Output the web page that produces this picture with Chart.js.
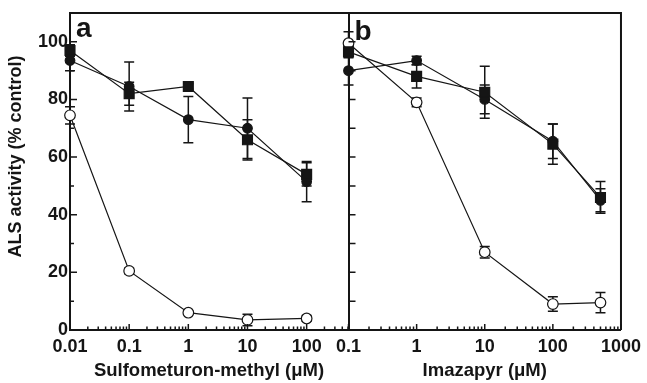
<!DOCTYPE html>
<html>
<head>
<meta charset="utf-8">
<script src="https://cdn.jsdelivr.net/npm/chart.js@4.4.1/dist/chart.umd.min.js"></script>
<style>
  body { margin: 0; background: #fff; }
  #wrap { position: relative; width: 647px; height: 383px; }
  #ca { position: absolute; left: 0; top: 0; }
  #cb { position: absolute; left: 330px; top: 0; }
</style>
</head>
<body>
<div id="wrap">
  <canvas id="ca" width="360" height="383"></canvas>
  <canvas id="cb" width="317" height="383"></canvas>
</div>
<script>
// panel a: sulfometuron-methyl (uM)
var concA = [0.01, 0.1, 1, 10, 100];
var squaresA = [97, 82, 84.5, 66, 54];
var squaresAErr = [2, 4, 1, 7, 4];
var circlesA = [93.5, 84.5, 73, 70, 51.5];
var circlesAErr = [3.5, 8.5, 8, 10.5, 7];
var openA = [74.5, 20.5, 6, 3.5, 4];
var openAErr = [3, 1, 0.5, 2, 1];

// panel b: imazapyr (uM)
var concB = [0.1, 1, 10, 100, 500];
var squaresB = [96.5, 88, 82.5, 64.5, 46];
var squaresBErr = [2, 4, 9, 7, 5.5];
var circlesB = [90, 93.5, 80, 65.5, 45];
var circlesBErr = [5, 1.5, 5, 6, 4];
var openB = [99.5, 79, 27, 9, 9.5];
var openBErr = [4, 1.5, 2, 2.5, 3.5];

var yTickLabels = [0, 20, 40, 60, 80, 100];

var ink = '#151515';
var fam = "'Liberation Sans', Arial, sans-serif";

function isPow10(v) {
    var l = Math.log10(v);
    return Math.abs(l - Math.round(l)) < 1e-9;
}

function logTicks(min, max) {
    var out = [];
    for (var e = Math.floor(Math.log10(min)); e <= Math.ceil(Math.log10(max)); e++) {
        for (var m = 1; m <= 9; m++) {
            var v = Number((m * Math.pow(10, e)).toPrecision(3));
            if (v >= min && v <= max) out.push({value: v});
        }
    }
    return out;
}

function pts(xs, ys) {
    return xs.map(function (x, i) { return {x: x, y: ys[i]}; });
}

function series(xs, ys, err, style, fill, radius) {
    return {
        data: pts(xs, ys),
        err: err,
        clip: false,
        borderColor: ink,
        borderWidth: 1.2,
        pointStyle: style,
        pointRadius: radius,
        pointBackgroundColor: fill,
        pointBorderColor: ink,
        pointBorderWidth: 1.2,
        fill: false,
        tension: 0
    };
}

var panelDecor = {
    id: 'panelDecor',
    beforeDatasetsDraw: function (chart) {
        var ctx = chart.ctx, ys = chart.scales.y;
        ctx.save();
        ctx.strokeStyle = ink;
        ctx.lineWidth = 1.5;
        chart.data.datasets.forEach(function (ds, i) {
            var meta = chart.getDatasetMeta(i);
            ds.data.forEach(function (p, j) {
                var e = ds.err[j];
                if (!e) return;
                var x = meta.data[j].x;
                var t = ys.getPixelForValue(p.y + e), b = ys.getPixelForValue(p.y - e);
                ctx.beginPath();
                ctx.moveTo(x, t); ctx.lineTo(x, b);
                ctx.moveTo(x - 5, t); ctx.lineTo(x + 5, t);
                ctx.moveTo(x - 5, b); ctx.lineTo(x + 5, b);
                ctx.stroke();
            });
        });
        ctx.restore();
    },
    afterDraw: function (chart, args, opts) {
        var ctx = chart.ctx, a = chart.chartArea;
        var xs = chart.scales.x, ys = chart.scales.y;
        ctx.save();
        ctx.strokeStyle = ink;
        ctx.lineWidth = 2;
        ctx.beginPath();
        ctx.moveTo(a.left, a.top);
        ctx.lineTo(a.right, a.top);
        if (opts.rightEdge) ctx.lineTo(a.right, a.bottom);
        ctx.stroke();
        ctx.lineWidth = 1.5;
        ctx.beginPath();
        xs.ticks.forEach(function (t) {
            var px = xs.getPixelForValue(t.value);
            var len = isPow10(t.value) ? 6 : 3.5;
            ctx.moveTo(px, a.bottom); ctx.lineTo(px, a.bottom - len);
        });
        ys.ticks.forEach(function (t) {
            if (t.value <= 0 || t.value >= ys.max) return;
            var py = ys.getPixelForValue(t.value);
            var len = opts.minorShort && t.value % 20 !== 0 ? 4 : 7;
            ctx.moveTo(a.left, py); ctx.lineTo(a.left + len, py);
        });
        ctx.stroke();
        ctx.fillStyle = ink;
        ctx.font = 'bold 28px ' + fam;
        ctx.textAlign = 'left';
        ctx.textBaseline = 'alphabetic';
        ctx.fillText(opts.letter, a.left + opts.dx, a.top + opts.dy);
        ctx.restore();
    }
};

function makeChart(id, xs, sets, opt) {
    return new Chart(document.getElementById(id), {
        type: 'line',
        data: {datasets: sets},
        plugins: [panelDecor],
        options: {
            responsive: false,
            animation: false,
            events: [],
            layout: {padding: {top: 13, right: opt.padRight, left: 0, bottom: 0}},
            scales: {
                x: {
                    type: 'logarithmic',
                    min: opt.xmin,
                    max: opt.xmax,
                    afterBuildTicks: function (s) { s.ticks = logTicks(s.min, s.max); },
                    afterFit: function (s) { s.height = 53; },
                    ticks: {
                        autoSkip: false,
                        maxRotation: 0,
                        padding: 6,
                        color: ink,
                        font: {family: fam, size: 18, weight: 'bold'},
                        callback: function (v) { return isPow10(v) ? String(Number(v.toPrecision(3))) : ''; }
                    },
                    grid: {display: false, drawTicks: false},
                    border: {display: true, color: ink, width: 2},
                    title: {
                        display: true,
                        text: opt.xTitle,
                        color: ink,
                        font: {family: fam, size: 18.5, weight: 'bold'},
                        padding: {top: 1, bottom: 1}
                    }
                },
                y: {
                    min: 0,
                    max: 110,
                    afterFit: function (s) { s.width = opt.yWidth; },
                    ticks: {
                        display: opt.yLabels,
                        stepSize: 10,
                        padding: 2,
                        color: ink,
                        font: {family: fam, size: 18, weight: 'bold'},
                        callback: function (v) { return yTickLabels.indexOf(v) >= 0 ? String(v) : ''; }
                    },
                    grid: {display: false, drawTicks: false},
                    border: {display: true, color: ink, width: 2},
                    title: {
                        display: opt.yLabels,
                        text: '      ALS activity (% control)',
                        color: ink,
                        font: {family: fam, size: 18, weight: 'bold'},
                        padding: {top: 5, bottom: 0}
                    }
                }
            },
            plugins: {
                legend: {display: false},
                tooltip: {enabled: false},
                panelDecor: {letter: opt.letter, dx: opt.dx, dy: opt.dy,
                    minorShort: opt.yLabels, rightEdge: opt.rightEdge}
            }
        }
    });
}

makeChart('ca', concA, [
    series(concA, squaresA, squaresAErr, 'rect', ink, 7),
    series(concA, circlesA, circlesAErr, 'circle', ink, 4.8),
    series(concA, openA, openAErr, 'circle', '#fff', 5.3)
], {xmin: 0.01, xmax: 500, padRight: 12, yWidth: 70, yLabels: true, rightEdge: false,
    xTitle: 'Sulfometuron-methyl (\u03bcM)', letter: 'a', dx: 6, dy: 24});

makeChart('cb', concB, [
    series(concB, squaresB, squaresBErr, 'rect', ink, 7),
    series(concB, circlesB, circlesBErr, 'circle', ink, 4.8),
    series(concB, openB, openBErr, 'circle', '#fff', 5.3)
], {xmin: 0.1, xmax: 1000, padRight: 22, yWidth: 18, yLabels: false, rightEdge: true,
    xTitle: 'Imazapyr (\u03bcM)', letter: 'b', dx: 6, dy: 27});
</script>
</body>
</html>
